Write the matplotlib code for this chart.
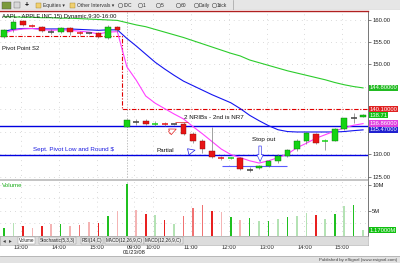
import matplotlib
matplotlib.use('Agg')
import matplotlib.pyplot as plt
from matplotlib.patches import Rectangle
import numpy as np

plt.rcParams['font.family'] = ['Liberation Sans', 'DejaVu Sans']

# ---- data: AAPL 15 min, 01/22/08 afternoon + 01/23/08 ----
opens  = [156.1, 157.9, 159.7, 158.7, 158.3, 157.2, 157.2, 158.1, 157.2, 156.9, 157.0, 156.0, 158.3,
          136.2, 137.2, 137.5, 136.75, 136.85, 136.7, 136.8, 134.5, 133.0, 130.8, 129.3, 129.15,
          129.2, 126.55, 126.9, 127.4, 128.6, 129.7, 131.2, 133.1, 134.6, 132.85, 133.1, 135.6, 138.0, 138.4]
highs  = [157.9, 160.1, 160.0, 158.9, 158.5, 157.9, 158.4, 158.4, 157.5, 157.1, 157.2, 158.7, 158.6,
          137.9, 137.9, 137.8, 137.4, 137.3, 136.8, 137.3, 134.9, 133.4, 136.2, 129.7, 129.5,
          129.5, 127.3, 127.6, 128.8, 130.0, 131.2, 133.4, 135.0, 134.7, 133.4, 135.8, 138.2, 139.3, 138.9]
lows   = [155.9, 157.2, 158.6, 158.4, 157.2, 156.8, 156.9, 156.6, 156.5, 156.7, 155.8, 155.7, 157.3,
          136.0, 136.5, 136.5, 136.3, 136.4, 136.6, 134.3, 132.6, 130.3, 129.3, 128.8, 128.9,
          126.6, 126.0, 126.7, 127.2, 128.2, 129.4, 130.8, 132.4, 132.3, 131.0, 132.9, 135.4, 136.9, 138.3]
closes = [157.7, 159.4, 158.8, 158.6, 157.4, 157.2, 158.1, 157.2, 157.0, 156.9, 156.1, 158.3, 157.7,
          137.7, 137.2, 136.7, 136.85, 136.75, 136.7, 134.6, 133.1, 131.2, 129.5, 129.2, 129.25,
          126.7, 126.55, 127.4, 128.6, 129.7, 131.0, 133.1, 134.7, 132.6, 133.0, 135.6, 138.0, 138.0, 138.71]

ma_green = [160.6, 160.6, 160.5, 160.5, 160.4, 160.4, 160.3, 160.3, 160.2, 160.1, 160.0, 159.9, 159.8,
            159.3, 158.8, 158.4, 157.8, 157.2, 156.6, 156.0, 155.3, 154.6, 153.9, 153.2, 152.5,
            151.9, 151.0, 150.4, 149.8, 149.2, 148.6, 148.1, 147.6, 147.1, 146.6, 146.0, 145.5, 145.1, 144.8]
ma_blue  = [157.4, 157.8, 158.0, 158.0, 157.9, 157.9, 157.9, 157.9, 157.8, 157.7, 157.6, 157.7, 157.7,
            155.8, 154.1, 152.3, 150.5, 149.0, 147.6, 146.3, 145.3, 144.3, 143.3, 142.4, 141.5,
            140.2, 138.7, 137.5, 136.4, 135.5, 135.1, 135.0, 135.0, 135.0, 135.0, 135.0, 135.1, 135.3, 135.47]
ma_mag   = [157.0, 157.6, 157.9, 158.0, 157.8, 157.6, 157.7, 157.6, 157.4, 157.2, 156.8, 157.2, 157.3,
            149.5, 146.5, 143.0, 141.4, 140.2, 139.0, 137.9, 136.2, 134.6, 132.9, 131.2, 130.0,
            129.3, 128.6, 128.1, 128.6, 129.3, 130.1, 131.5, 132.5, 133.6, 134.4, 135.2, 135.9, 136.5, 136.86]

volume = [1.5, 2.5, 1.9, 1.5, 1.9, 2.3, 2.3, 2.0, 2.1, 2.8, 2.5, 4.0, 4.9,
          10.3, 5.1, 4.3, 4.2, 3.1, 2.3, 3.9, 5.5, 6.2, 5.0, 4.7, 3.7, 3.2, 3.5,
          2.9, 2.9, 3.3, 3.7, 3.9, 4.6, 4.2, 3.3, 4.3, 5.9, 6.1, 1.17]
vol_kind = ['g', 'lg', 'r', 'lr', 'r', 'lr', 'g', 'lr', 'mr', 'lr', 'r', 'g', 'lr',
            'g', 'lr', 'r', 'lg', 'r', 'lg', 'mr', 'mr', 'mr', 'r', 'lr', 'g', 'lr', 'g',
            'lg', 'g', 'lg', 'g', 'lg', 'lg', 'r', 'lg', 'g', 'lg', 'g', 'lg']

first_bar_day2 = 13
s2_levels = [156.3, 140.1]          # pivot S2 for each day
hlines_blue = [136.25, 129.9]       # drawn levels
support_low = 127.5

tick_bars = [1, 5, 9, 13, 15, 19, 23, 27, 31, 35]
tick_labels = ['13:00', '14:00', '15:00', '09:00\n01/23/08', '10:00', '11:00',
               '12:00', '13:00', '14:00', '15:00']
price_ticks = [125, 130, 150, 155, 160]

W, H = 400, 263


def box(x0, y0, x1, y1):
    return [x0 / W, 1 - y1 / H, (x1 - x0) / W, (y1 - y0) / H]


GREEN, RED = '#14d414', '#e81414'
VCOL = {'g': '#20c020', 'lg': '#b4e2b4', 'r': '#e82020', 'lr': '#f4b4b4', 'mr': '#f07272'}
FS = 4.2
GRID = dict(color='#b8b8b8', lw=0.5, ls=(0, (1, 6)))

fig = plt.figure(figsize=(4, 2.63), dpi=100)

# ---- toolbar ----
tb = fig.add_axes(box(0, 0, 400, 10))
tb.set_facecolor('#e6e6e6')
tb.set_xlim(0, 400); tb.set_ylim(10, 0)
tb.set_xticks([]); tb.set_yticks([])
for s in tb.spines.values():
    s.set_visible(False)
tb.axhline(10, color='#a0a0a0', lw=0.8)
tb.add_patch(Rectangle((2, 2), 9, 7, fc='#7a9a3a', ec='#505050', lw=0.3))
tb.add_patch(Rectangle((14, 2), 6, 6, fc='#d8d8d8', ec='#606060', lw=0.3))
tb.text(27, 5.3, '+', fontsize=5, ha='center', va='center', fontweight='bold')
for x, t in [(36, 'Equities ▾'), (70, 'Other Intervals ▾')]:
    tb.add_patch(Rectangle((x, 2.5), 5, 5, fc='#f0d070', ec='#a08020', lw=0.3))
    tb.text(x + 7, 5.3, t, fontsize=3.6, va='center', color='#303030')
for x, t in [(120, 'IDC'), (140, '1'), (158, '5'), (178, '60'), (196, 'Daily'), (214, '1tick')]:
    tb.plot(x, 5.3, marker='o', ms=3.2, mfc='none', mec='#505050', mew=0.4)
    tb.text(x + 3, 5.3, t, fontsize=3.6, va='center', color='#303030')
tb.axvline(233, color='#a0a0a0', lw=0.5)

# ---- price panel ----
ax = fig.add_axes(box(0, 11, 368, 180))
n = len(closes)
idx = np.arange(n)
x_lo, x_hi = -0.42, 38.52
ax.set_xlim(x_lo, x_hi)
ax.set_ylim(124.33, 161.89)
for p in range(125, 161, 5):
    ax.axhline(p, zorder=0, **GRID)
for t in tick_bars:
    ax.axvline(t + 0.8, zorder=0, **GRID)
ax.axvline(first_bar_day2, color='#a8a8a8', lw=0.5, ls=(0, (2, 2)), zorder=1)

# pivot S2 step line
xb = first_bar_day2 - 0.5
ax.plot([x_lo, xb, xb, x_hi], [s2_levels[0], s2_levels[0], s2_levels[1], s2_levels[1]],
        color='#e00000', lw=0.8, ls=(0, (4, 1.5, 1, 1.5)), zorder=2)
for lvl in hlines_blue:
    ax.axhline(lvl, color='#0000e0', lw=1.0, zorder=2)
ax.hlines(support_low, 23.1, 30.0, color='#5a5aff', lw=0.8, zorder=2)

ax.plot(idx, ma_green, color='#2ccc2c', lw=0.8, zorder=2)
ax.plot(idx, ma_blue, color='#1414f0', lw=0.8, zorder=2)
ax.plot(idx, ma_mag, color='#ff40ff', lw=0.8, zorder=2)

for i, (o, h, l, c) in enumerate(zip(opens, highs, lows, closes)):
    ax.vlines(i, l, h, color='#7a7a7a', lw=0.5, zorder=3)
    col = GREEN if c > o else RED if c < o else '#404040'
    if abs(c - o) < 0.2:
        ax.hlines((o + c) / 2, i - 0.32, i + 0.32, color=col, lw=1.1, zorder=4)
    else:
        edge = '#0a6a0a' if c > o else '#8a0a0a'
        ax.add_patch(Rectangle((i - 0.3, min(o, c)), 0.6, abs(c - o),
                               fc=col, ec=edge, lw=0.3, zorder=4))

ax.yaxis.tick_right()
ax.set_yticks(price_ticks)
ax.set_yticklabels([f'{p:.2f}' for p in price_ticks])
ax.tick_params(axis='y', labelsize=FS, length=2, width=0.4, pad=1, colors='#202020')
ax.set_xticks([])
for s in ['left', 'bottom']:
    ax.spines[s].set_visible(False)
ax.spines['top'].set_color('#b02020'); ax.spines['top'].set_linewidth(1.0)
ax.spines['right'].set_color('#606060'); ax.spines['right'].set_linewidth(0.6)

# value boxes on the right
for val, fc in [(ma_green[-1], '#22bb22'), (s2_levels[1], '#e02020'), (closes[-1], '#10c010'),
                (ma_mag[-1], '#e040e0'), (ma_blue[-1], '#2020d0')]:
    txt = f'{val:.2f}' if val == closes[-1] else f'{val:.5f}'
    ax.text(1.004, val, txt, transform=ax.get_yaxis_transform(), fontsize=FS, color='white',
            va='center', ha='left', clip_on=False,
            bbox=dict(boxstyle='square,pad=0.12', fc=fc, ec='none'))

ax.text(0.005, 0.985, 'AAPL - APPLE INC,15) Dynamic,9:30-16:00', transform=ax.transAxes,
        fontsize=FS, va='top', ha='left', color='#101010')
ax.text(-0.2, 153.6, 'Pivot Point S2', fontsize=FS, va='center', ha='left', color='#101010')
ax.text(19.05, 138.3, '2 NRIBs - 2nd is NR7', fontsize=FS + 0.3, va='center', ha='left', color='#101010')
ax.text(3.1, 131.0, 'Sept. Pivot Low and Round $', fontsize=FS + 0.3, va='center', ha='left', color='#1a1ae0')
ax.text(17.1, 130.8, 'Partial', fontsize=FS + 0.3, va='center', ha='center', color='#101010')
ax.text(27.5, 133.4, 'Stop out', fontsize=FS + 0.3, va='center', ha='center', color='#101010')
ax.hlines(137.3, 18.1, 19.5, color='#e04040', lw=0.6, zorder=5)
arrow = 'simple,head_width=0.45,head_length=0.5,tail_width=0.18'
ax.annotate('', xy=(18.5, 135.9), xytext=(17.2, 134.7),
            arrowprops=dict(arrowstyle=arrow, fc='white', ec='#e02020', lw=0.5), zorder=6)
ax.annotate('', xy=(20.5, 131.1), xytext=(19.3, 130.5),
            arrowprops=dict(arrowstyle=arrow, fc='white', ec='#2020e0', lw=0.5), zorder=6)
ax.annotate('', xy=(27.1, 127.8), xytext=(27.1, 132.5),
            arrowprops=dict(arrowstyle=arrow, fc='white', ec='#4040f0', lw=0.5), zorder=6)
ax.text(0.005, -0.02, 'Copyright \u00a9 2008 eSignal.', transform=ax.transAxes, fontsize=3,
        va='bottom', ha='left', color='#404040')

# separator between panels
fig.patches.append(Rectangle((0, 1 - 181 / H), 368 / W, 1.6 / H, transform=fig.transFigure,
                             fc='#c4c4c4', ec='none', zorder=5))

# ---- volume panel ----
av = fig.add_axes(box(0, 181, 368, 236))
av.set_xlim(x_lo, x_hi)
av.set_ylim(0, 10.87)
for p in [2.5, 5, 7.5, 10]:
    av.axhline(p, zorder=0, **GRID)
av.axvline(first_bar_day2, color='#a8a8a8', lw=0.5, ls=(0, (2, 2)), zorder=1)
av.bar(idx, volume, width=0.17, color=[VCOL[k] for k in vol_kind], zorder=3)
av.yaxis.tick_right()
av.set_yticks([5, 10])
av.set_yticklabels(['5M', '10M'])
av.tick_params(axis='y', labelsize=FS, length=2, width=0.4, pad=1, colors='#202020')
av.set_xticks([t + 0.8 for t in tick_bars])
av.set_xticklabels(tick_labels, fontsize=FS, linespacing=0.95)
av.tick_params(axis='x', length=0, pad=6.3, colors='#202020')
av.grid(axis='x', **GRID)
for s in ['left', 'top', 'bottom']:
    av.spines[s].set_visible(False)
av.spines['right'].set_color('#606060'); av.spines['right'].set_linewidth(0.6)
av.text(0.005, 0.97, 'Volume', transform=av.transAxes, fontsize=FS + 0.3, va='top',
        ha='left', color='#20b020')
av.text(1.004, volume[-1], f'{volume[-1]:.5f}M', transform=av.get_yaxis_transform(),
        fontsize=FS, color='white', va='center', ha='left', clip_on=False,
        bbox=dict(boxstyle='square,pad=0.12', fc='#10c010', ec='none'))

# ---- tab bar ----
tab = fig.add_axes(box(0, 236, 368, 245))
tab.set_facecolor('#dcdcdc')
tab.set_xlim(0, 368); tab.set_ylim(9, 0)
tab.set_xticks([]); tab.set_yticks([])
for s in tab.spines.values():
    s.set_color('#a0a0a0'); s.set_linewidth(0.4)
tab.text(4, 4.5, '\u25c2', fontsize=4, ha='center', va='center', color='#404040')
tab.text(10, 4.5, '\u25b8', fontsize=4, ha='center', va='center', color='#404040')
for x, t, fc in [(19, 'Volume', 'white'), (40, 'Stochastic(5,3,3)', '#e8e8e8'),
                 (82, 'RSI(14,C)', '#e8e8e8'), (106, 'MACD(12,26,9,C)', '#e8e8e8'),
                 (145, 'MACD(12,26,9,C)', '#e8e8e8')]:
    tab.text(x, 4.6, t, fontsize=3.3, ha='left', va='center', color='#202020',
             bbox=dict(boxstyle='square,pad=0.15', fc=fc, ec='#909090', lw=0.3))

# ---- footer ----
ft = fig.add_axes(box(0, 256, 400, 263))
ft.set_facecolor('#e2e2e2')
ft.set_xticks([]); ft.set_yticks([])
for s in ft.spines.values():
    s.set_visible(False)
ft.axhline(1, color='#b0b0b0', lw=0.6)
ft.text(0.992, 0.45, 'Published by eSignal (www.esignal.com)', transform=ft.transAxes,
        fontsize=3.2, ha='right', va='center', color='#404040')

fig.savefig('out.png', dpi=100)
